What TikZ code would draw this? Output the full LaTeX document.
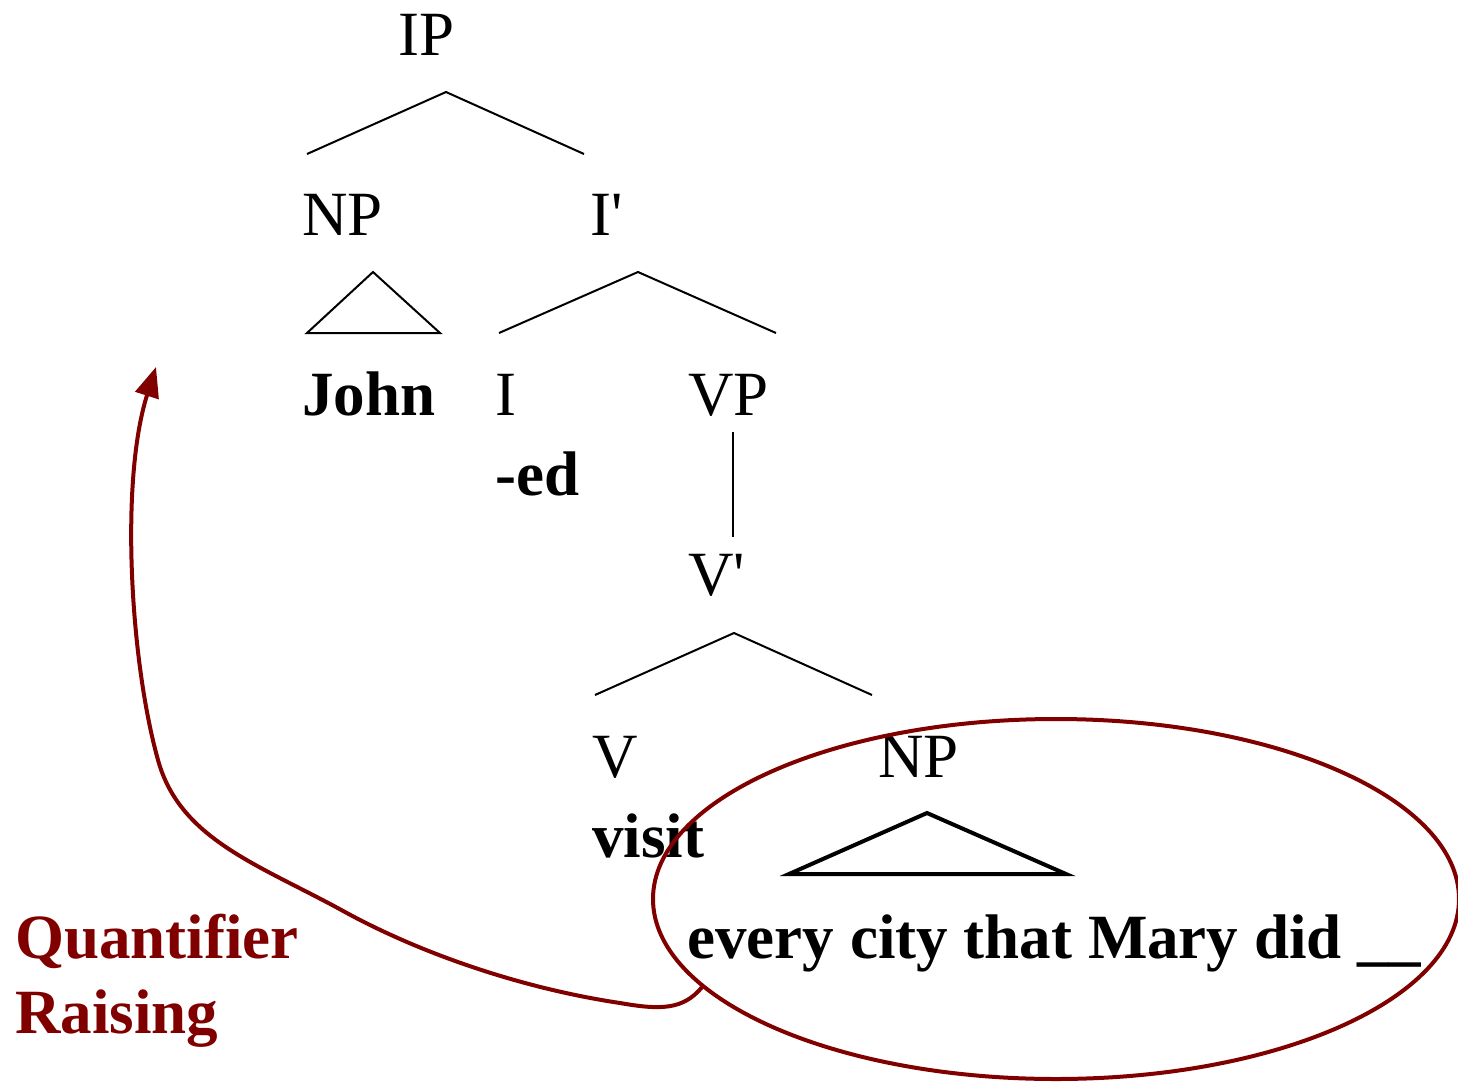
\documentclass[tikz,border=0pt]{standalone}
\usepackage{fontspec}
\setmainfont{Liberation Serif}
\usetikzlibrary{arrows.meta, shapes.geometric}
\definecolor{qrred}{RGB}{128,0,0}

\begin{document}
\begin{tikzpicture}[
    x=0.5pt, y=-0.5pt,
    lbl/.style={anchor=base west, inner sep=0pt, font=\fontsize{31.5}{36}\selectfont},
    word/.style={lbl, font=\fontsize{31.5}{36}\selectfont\bfseries},
    qrword/.style={word, text=qrred},
    branch/.style={line width=1pt},
    tri/.style={line width=1pt, line join=miter},
    trithick/.style={line width=2pt, line join=miter},
    qr/.style={draw=qrred, line width=2pt}
]
\useasboundingbox (0,0) rectangle (1458,1083);

% category labels
\node[lbl] (IP) at (398,55) {IP};
\node[lbl] (NPsubj) at (302,235) {NP};
\node[lbl] (Ibar) at (590,235) {I\textquotesingle};
\node[lbl] (I) at (495,415) {I};
\node[lbl] (VP) at (688,415) {VP};
\node[lbl] (Vbar) at (688,595) {V\textquotesingle};
\node[lbl] (V) at (592,777) {V};
\node[lbl] (NPobj) at (878,777) {NP};

% words
\node[word] (John) at (302,415) {John};
\node[word] (ed) at (495,495) {-ed};
\node[word] (visit) at (592,857) {visit};
\node[word] (every) at (687,958) {every city that Mary did \_\_};

% branch points
\coordinate (IPtop) at (446,92);
\coordinate (IPl) at (307,154);
\coordinate (IPr) at (584,154);
\coordinate (Ibartop) at (638,272);
\coordinate (Ibarl) at (499,333);
\coordinate (Ibarr) at (776,333);
\coordinate (VPtop) at (733,432);
\coordinate (VPbot) at (733,537);
\coordinate (Vbartop) at (734,633);
\coordinate (Vbarl) at (595,695);
\coordinate (Vbarr) at (872,695);

\draw[branch] (IPl) -- (IPtop) -- (IPr);
\draw[branch] (Ibarl) -- (Ibartop) -- (Ibarr);
\draw[branch] (VPtop) -- (VPbot);
\draw[branch] (Vbarl) -- (Vbartop) -- (Vbarr);

% triangles
\draw[tri] (373,272) -- (440,333) -- (307,333) -- cycle;
\draw[trithick] (927,813) -- (1066,874) -- (789,874) -- cycle;

% QR movement
\node[qr, ellipse, minimum width=403pt, minimum height=180pt, inner sep=0pt] (QRbox) at (1056,899) {};
\coordinate (QRtarget) at (156,367);
\draw[qr, -{Triangle[length=15pt, width=12pt]}] (QRbox.194)
    .. controls (683,1010) and (660,1010) .. (620,1003)
    .. controls (520,988) and (420,953) .. (345,912)
    .. controls (260,865) and (180,840) .. (158,760)
    .. controls (130,660) and (120,480) .. (QRtarget);

\node[qrword] (Quant) at (15,958) {Quantifier};
\node[qrword] (Raise) at (15,1033) {Raising};

\end{tikzpicture}
\end{document}
